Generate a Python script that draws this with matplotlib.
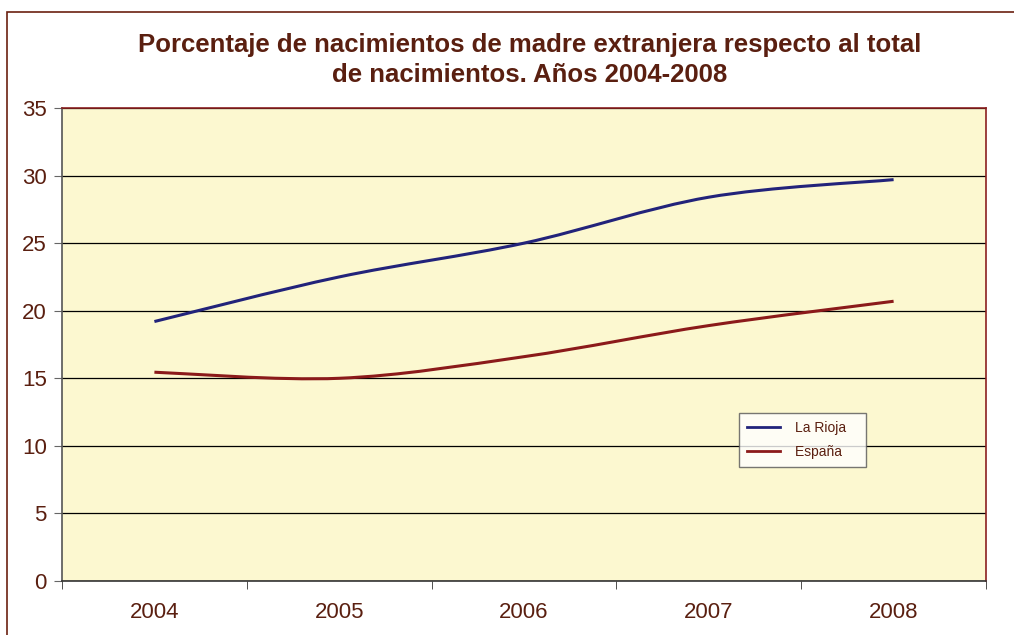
import numpy as np
import matplotlib.pyplot as plt
from matplotlib.path import Path
from matplotlib.patches import PathPatch, Rectangle
from matplotlib.lines import Line2D

# data
years = ['2004', '2005', '2006', '2007', '2008']
la_rioja = [19.2, 22.5, 25.0, 28.4, 29.7]
espana = [15.45, 15.0, 16.6, 18.9, 20.7]

TXT = '#5a1f10'
C_RIOJA = '#22237a'
C_ESP = '#8b1a1a'


def smoothPath(xs, ys):
    """Bezier path through the points, like the spreadsheet smoothed line"""
    pts = np.column_stack([xs, ys]).astype(float)
    n = len(pts)
    verts = [pts[0]]
    codes = [Path.MOVETO]
    for i in range(n - 1):
        p0 = pts[i - 1] if i > 0 else pts[i]
        p1 = pts[i]
        p2 = pts[i + 1]
        p3 = pts[i + 2] if i + 2 < n else pts[i + 1]
        c1 = p1 + (p2 - p0) / 6.0
        c2 = p2 - (p3 - p1) / 6.0
        verts += [c1, c2, p2]
        codes += [Path.CURVE4] * 3
    return Path(verts, codes)


fig = plt.figure(figsize=(10.14, 6.35), dpi=100)
plt.rcParams['font.family'] = ['Liberation Sans', 'DejaVu Sans']

# outer chart frame, cut off at right and bottom like the reference
fig.patches.append(Rectangle((7 / 1014, -0.05), 1.1, 1 - 12 / 635 + 0.05,
                             transform=fig.transFigure, fill=False,
                             edgecolor='#6b2010', linewidth=1.2))

ax = fig.add_axes([62 / 1014, 1 - 581 / 635, 924 / 1014, 473 / 635])
ax.set_facecolor('#fcf8d0')

x = np.arange(len(years))
ax.add_patch(PathPatch(smoothPath(x, la_rioja), fill=False,
                       edgecolor=C_RIOJA, linewidth=2.2, zorder=3))
ax.add_patch(PathPatch(smoothPath(x, espana), fill=False,
                       edgecolor=C_ESP, linewidth=2.2, zorder=3))

ax.set_xlim(-0.5, len(years) - 0.5)
ax.set_ylim(0, 35)
ax.set_yticks(range(0, 36, 5))
ax.yaxis.grid(True, color='black', linewidth=0.9)
ax.set_axisbelow(True)

ax.set_xticks(x)
ax.set_xticklabels(years)
ax.set_xticks(np.arange(-0.5, len(years), 1.0), minor=True)
ax.tick_params(axis='x', which='major', length=0, pad=15,
               labelsize=16, labelcolor=TXT)
ax.tick_params(axis='x', which='minor', length=6, color='#333333', direction='out')
ax.tick_params(axis='y', length=6, color='#666666', labelsize=16,
               labelcolor=TXT, pad=5)

ax.spines['left'].set_color('#555555')
ax.spines['bottom'].set_color('#333333')
ax.spines['top'].set_color('#8b2020')
ax.spines['right'].set_color('#8b2020')
for s in ax.spines.values():
    s.set_linewidth(1.2)

fig.text(0.522, 1 - 60 / 635,
         'Porcentaje de nacimientos de madre extranjera respecto al total\nde nacimientos. Años 2004-2008',
         ha='center', va='center', fontsize=18.5, fontweight='bold',
         color=TXT, linespacing=1.32)

handles = [Line2D([], [], color=C_RIOJA, linewidth=2),
           Line2D([], [], color=C_ESP, linewidth=2)]
leg = ax.legend(handles, ['La Rioja   ', 'España   '], loc='upper left',
                bbox_to_anchor=((739 - 62) / 924, (581 - 413) / 473),
                fontsize=10, frameon=True, fancybox=False, handlelength=2.4,
                borderpad=0.55, labelspacing=0.75, handletextpad=1.1,
                borderaxespad=0)
leg.get_frame().set_edgecolor('#555555')
leg.get_frame().set_linewidth(1.0)
for t in leg.get_texts():
    t.set_color(TXT)

plt.savefig('out.png', dpi=100)
